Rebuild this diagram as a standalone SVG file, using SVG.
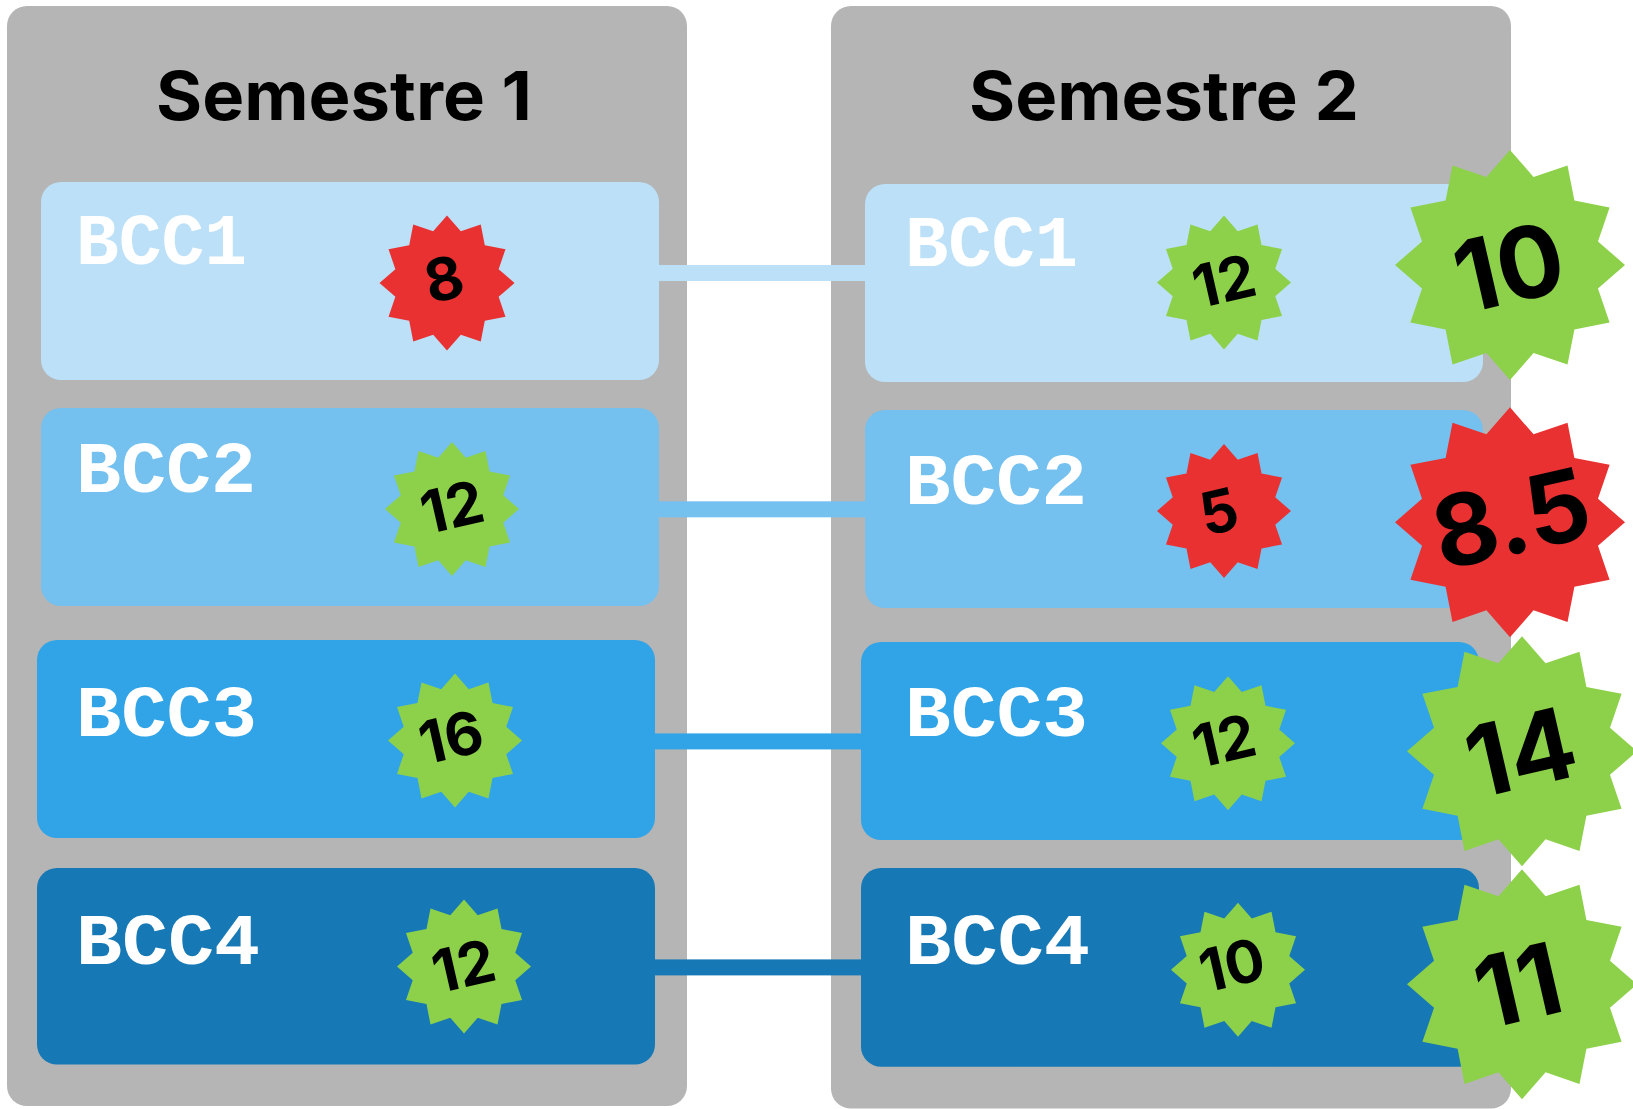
<svg xmlns="http://www.w3.org/2000/svg" width="1633" height="1109" viewBox="0 0 1633 1109">
<style>
.panel{fill:#b5b5b5}
.b1{fill:#bbe0f7}.b2{fill:#74c0ef}.b3{fill:#30a4e7}.b4{fill:#1679b5}
.green{fill:#8dd14a}.red{fill:#e93131}
.title{font:700 68px Inter,"Liberation Sans",sans-serif;fill:#000}
.label{font:700 72px "Liberation Mono","DejaVu Sans Mono",monospace;fill:#fff}
.num{font-family:Inter,"Liberation Sans",sans-serif;font-weight:700;fill:#000;text-anchor:middle}
.s{font-size:59px}.l{font-size:99px}
</style>
<defs>
<polygon id="star" points="0,-100 20.5,-76.5 50,-86.6 56,-56 86.6,-50 76.5,-20.5 100,0 76.5,20.5 86.6,50 56,56 50,86.6 20.5,76.5 0,100 -20.5,76.5 -50,86.6 -56,56 -86.6,50 -76.5,20.5 -100,0 -76.5,-20.5 -86.6,-50 -56,-56 -50,-86.6 -20.5,-76.5"/>
</defs>
<g id="panel-s1"><rect class="panel" x="7" y="6" width="680" height="1100" rx="20"/><text class="title" x="156" y="120" textLength="376" lengthAdjust="spacingAndGlyphs">Semestre 1</text></g>
<g id="panel-s2"><rect class="panel" x="831" y="6" width="680" height="1102.5" rx="20"/><text class="title" x="969" y="120" textLength="390" lengthAdjust="spacingAndGlyphs">Semestre 2</text></g>
<g id="connectors">
<rect class="b1" x="659" y="265" width="206" height="16"/>
<rect class="b2" x="659" y="501.3" width="206" height="16"/>
<rect class="b3" x="655" y="733.4" width="206" height="16"/>
<rect class="b4" x="655" y="959.4" width="206" height="16"/>
</g>
<g id="s1-bcc1"><rect class="b1" x="41" y="182" width="618" height="198" rx="20"/><text class="label" x="76" y="264" textLength="171" lengthAdjust="spacingAndGlyphs">BCC1</text><use href="#star" class="red" transform="translate(447,283) scale(.675)"/><text class="num s" transform="translate(444,279) rotate(-13)" y="21">8</text></g>
<g id="s1-bcc2"><rect class="b2" x="41" y="408" width="618" height="198" rx="20"/><text class="label" x="76" y="492" textLength="180" lengthAdjust="spacingAndGlyphs">BCC2</text><use href="#star" class="green" transform="translate(452,509) scale(.67)"/><text class="num s" transform="translate(452,507) rotate(-13)" y="21">12</text></g>
<g id="s1-bcc3"><rect class="b3" x="37" y="640" width="618" height="198" rx="20"/><text class="label" x="76" y="736" textLength="181" lengthAdjust="spacingAndGlyphs">BCC3</text><use href="#star" class="green" transform="translate(455,740.500) scale(.67)"/><text class="num s" transform="translate(451,737) rotate(-13)" y="21">16</text></g>
<g id="s1-bcc4"><rect class="b4" x="37" y="868" width="618" height="196.5" rx="20"/><text class="label" x="76" y="964" textLength="184" lengthAdjust="spacingAndGlyphs">BCC4</text><use href="#star" class="green" transform="translate(464,966.5) scale(.67)"/><text class="num s" transform="translate(463.500,966) rotate(-13)" y="21">12</text></g>
<g id="s2-bcc1"><rect class="b1" x="865" y="184" width="618" height="198" rx="20"/><text class="label" x="905" y="266" textLength="173" lengthAdjust="spacingAndGlyphs">BCC1</text><use href="#star" class="green" transform="translate(1224,282.500) scale(.67)"/><text class="num s" transform="translate(1224,281) rotate(-13)" y="21">12</text></g>
<g id="s2-bcc2"><rect class="b2" x="865" y="410" width="618" height="198" rx="20"/><text class="label" x="905" y="504" textLength="182" lengthAdjust="spacingAndGlyphs">BCC2</text><use href="#star" class="red" transform="translate(1224,511) scale(.67)"/><text class="num s" transform="translate(1219,511.500) rotate(-13)" y="21">5</text></g>
<g id="s2-bcc3"><rect class="b3" x="861" y="642" width="618" height="198" rx="20"/><text class="label" x="905" y="736" textLength="183" lengthAdjust="spacingAndGlyphs">BCC3</text><use href="#star" class="green" transform="translate(1228,743.300) scale(.67)"/><text class="num s" transform="translate(1224,740.700) rotate(-13)" y="21">12</text></g>
<g id="s2-bcc4"><rect class="b4" x="861" y="868" width="618" height="198.700" rx="20"/><text class="label" x="905" y="964" textLength="185" lengthAdjust="spacingAndGlyphs">BCC4</text><use href="#star" class="green" transform="translate(1238,969.700) scale(.67)"/><text class="num s" transform="translate(1232,965) rotate(-13)" y="21">10</text></g>
<g id="s2-total1"><use href="#star" class="green" transform="translate(1510,265) scale(1.15)"/><text class="num l" transform="translate(1509,266.700) rotate(-13)" y="36">10</text></g>
<g id="s2-total2"><use href="#star" class="red" transform="translate(1510,522.300) scale(1.15)"/><text class="num l" transform="translate(1511,518) rotate(-13)" y="36">8.5</text></g>
<g id="s2-total3"><use href="#star" class="green" transform="translate(1522,751.300) scale(1.15)"/><text class="num l" transform="translate(1520.700,751.700) rotate(-13)" y="36">14</text></g>
<g id="s2-total4"><use href="#star" class="green" transform="translate(1522,984.300) scale(1.15)"/><text class="num l" transform="translate(1518,985) rotate(-13)" y="36">11</text></g>
</svg>
